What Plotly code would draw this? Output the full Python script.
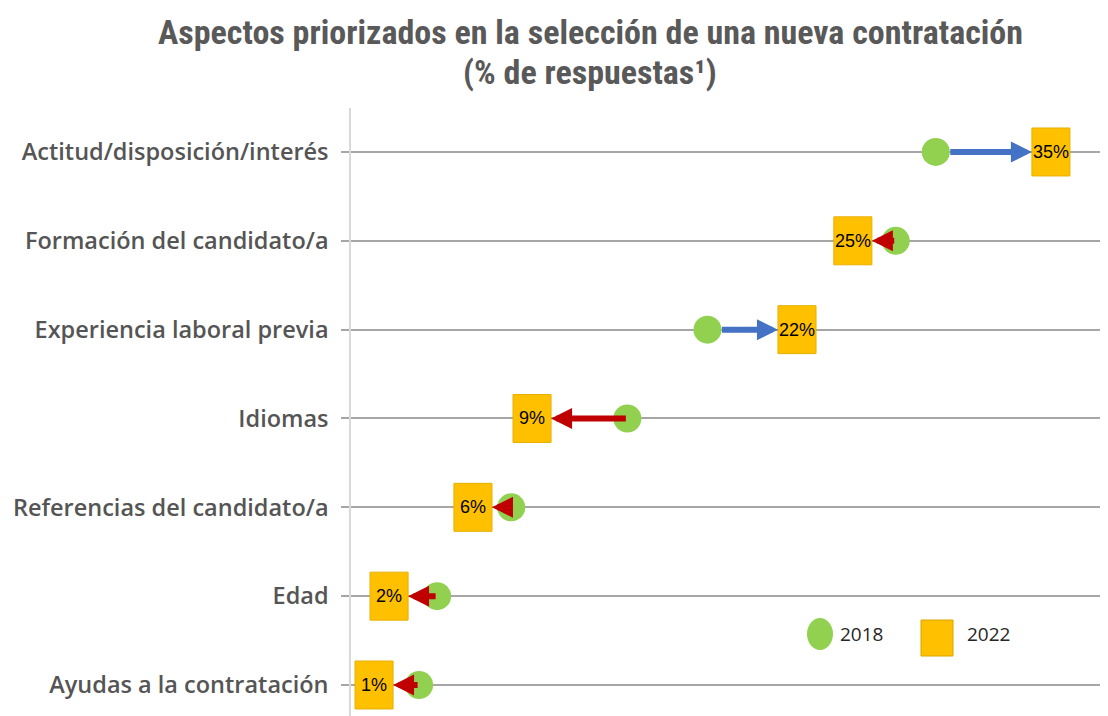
import plotly.graph_objects as go

categories = [
    "Actitud/disposición/interés",
    "Formación del candidato/a",
    "Experiencia laboral previa",
    "Idiomas",
    "Referencias del candidato/a",
    "Edad",
    "Ayudas a la contratación",
]
values_2018 = [29.2, 27.2, 17.8, 13.8, 8.0, 4.3, 3.4]
values_2022 = [34.95, 25.06, 22.27, 9.04, 6.09, 1.9, 1.15]
labels_2022 = ["35%", "25%", "22%", "9%", "6%", "2%", "1%"]
title_lines = ["Aspectos priorizados en la selección de una nueva contratación",
               "(% de respuestas¹)"]

GREEN = "#92D050"
ORANGE = "#FFC000"
BLUE = "#4472C4"
RED = "#C00000"

SQ_HALF_W = 0.95
SQ_HALF_H = 0.27
CIRCLE_R = 0.65

fig = go.Figure()
ypos = list(range(len(categories)))

fig.add_trace(go.Scatter(
    x=values_2018, y=ypos, mode="markers",
    marker=dict(symbol="circle", size=28, color=GREEN, line=dict(width=0)),
    showlegend=False, hoverinfo="skip",
))

shapes = []
annotations = []
for i, (a, b, lab) in enumerate(zip(values_2018, values_2022, labels_2022)):
    shapes.append(dict(type="rect", xref="x", yref="y",
                       x0=b - SQ_HALF_W, x1=b + SQ_HALF_W,
                       y0=i - SQ_HALF_H, y1=i + SQ_HALF_H,
                       fillcolor=ORANGE, line=dict(color="#E8B000", width=1),
                       layer="above"))
    if b > a:
        tail = a + CIRCLE_R
        tip = b - SQ_HALF_W
        col = BLUE
    else:
        tail = a
        tip = b + SQ_HALF_W
        col = RED
    annotations.append(dict(x=tip, y=i, ax=tail, ay=i, xref="x", yref="y",
                            axref="x", ayref="y", showarrow=True, text="",
                            arrowhead=2, arrowwidth=6, arrowsize=0.7,
                            arrowcolor=col, standoff=0, startstandoff=0))
    annotations.append(dict(x=b, y=i, xref="x", yref="y", text=lab,
                            showarrow=False,
                            font=dict(family="Liberation Sans, Arial", size=18, color="#000000")))

# Title (two lines placed separately)
for line, ysh in zip(title_lines, [76, 36]):
    annotations.append(dict(
        xref="paper", yref="paper", x=(590 - 351) / 757, y=1.0, yshift=ysh,
        xanchor="center", yanchor="middle",
        text="<b>" + line + "</b>", showarrow=False,
        font=dict(family="Liberation Sans Narrow, Roboto Condensed, Liberation Sans",
                  size=34, color="#595959"),
    ))

# Manual legend
shapes.append(dict(type="circle", xref="paper", yref="paper",
                   x0=(807 - 351) / 757, x1=(833 - 351) / 757,
                   y0=(716 - 650) / 608, y1=(716 - 618) / 608,
                   fillcolor=GREEN, line=dict(width=0), layer="above"))
shapes.append(dict(type="rect", xref="paper", yref="paper",
                   x0=(921 - 351) / 757, x1=(953 - 351) / 757,
                   y0=(716 - 656) / 608, y1=(716 - 620) / 608,
                   fillcolor=ORANGE, line=dict(color="#D9A400", width=1), layer="above"))
for txt, xpx in [("2018", 838), ("2022", 965)]:
    annotations.append(dict(xref="paper", yref="paper", x=(xpx - 351) / 757,
                            y=(716 - 634) / 608, xanchor="left", yanchor="middle",
                            text=txt, showarrow=False,
                            font=dict(family="Open Sans, Liberation Sans", size=19, color="#262626")))

# The page places the figure 8px in from the top-left corner, so the figure is
# sized to fill the remaining window area.
fig.update_layout(
    width=1100, height=708,
    margin=dict(l=343, r=0, t=100, b=0, autoexpand=False),
    paper_bgcolor="white", plot_bgcolor="white",
    showlegend=False,
    shapes=shapes, annotations=annotations,
    xaxis=dict(range=[0, 37.8], showgrid=False, zeroline=False, showticklabels=False,
               ticks="", showline=False, automargin=False),
    yaxis=dict(range=[6.349, -0.495], tickmode="array", tickvals=ypos, ticktext=categories,
               automargin=False,
               showgrid=True, gridcolor="#A6A6A6", gridwidth=2, zeroline=False,
               showline=True, linecolor="#D9D9D9", linewidth=1.5,
               ticks="outside", ticklen=8, tickcolor="#A6A6A6", tickwidth=2,
               ticklabelstandoff=8,
               tickfont=dict(family="Open Sans, Liberation Sans", size=23.5, color="#555555", weight=600)),
)

fig.write_html("out.html")
